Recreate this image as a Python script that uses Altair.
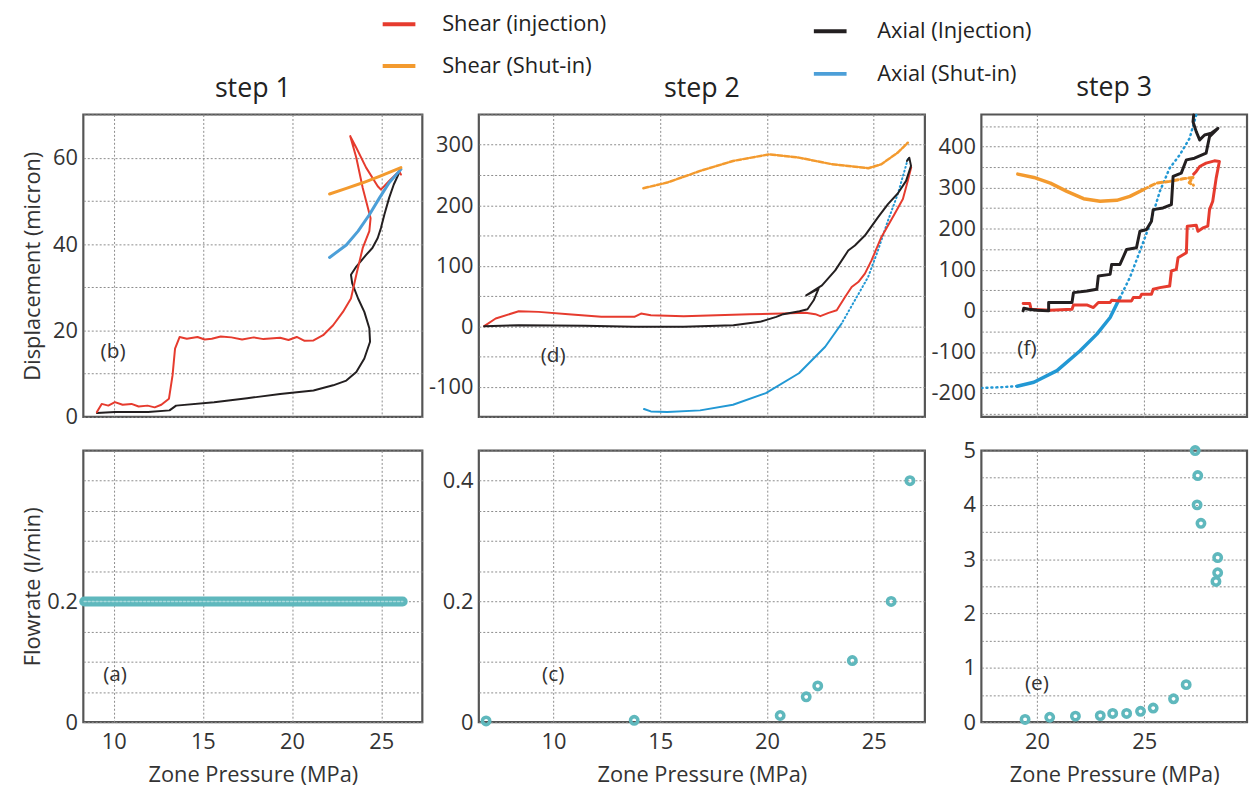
import altair as alt
import pandas as pd

FONT = "Open Sans"
RED = "#e63b2e"
ORANGE = "#f39a2e"
BLACK = "#231f20"
BLUE1 = "#4c9fd8"
BLUE = "#2298d4"
TEAL = "#5fb8bd"

# ---------------- Step 1 displacement ----------------
s1_shear_inj_x = [9.06, 9.33, 9.7, 10.07, 10.5, 11.0, 11.4, 11.9, 12.3, 12.67, 13.1, 13.3, 13.44, 13.7,
                  14.1, 14.7, 15.1, 15.5, 16.0, 16.6, 17.2, 17.85, 18.4, 19.33, 19.8, 20.26, 20.7, 21.2,
                  21.74, 22.3, 22.85, 23.3, 23.6, 23.96, 24.33, 24.4, 23.96, 23.6, 23.26, 23.6, 24.15,
                  24.8, 24.98, 25.44, 26.0, 26.1]
s1_shear_inj_y = [1.1, 3.0, 2.6, 3.4, 2.8, 3.0, 2.4, 2.6, 2.2, 2.8, 4.2, 9.6, 15.8, 18.5,
                  18.1, 18.5, 17.9, 18.1, 18.6, 18.4, 17.9, 18.4, 18.0, 18.3, 17.8, 18.5, 17.6, 17.7,
                  18.9, 21.2, 24.3, 27.4, 32.9, 39.1, 43.0, 46.0, 53.0, 60.0, 65.0, 62.3, 57.7,
                  53.4, 52.6, 54.6, 56.9, 56.1]
s1_axial_inj_x = [9.06, 10.07, 11.93, 13.13, 13.5, 15.63, 17.48, 19.33, 21.2, 22.3, 23.04, 23.6, 24.05,
                  24.37, 24.33, 24.05, 23.7, 23.37, 23.3, 23.6, 24.15, 24.5, 24.8, 24.98, 25.17, 25.44,
                  25.7, 26.0]
s1_axial_inj_y = [0.9, 1.1, 1.1, 1.5, 2.6, 3.4, 4.3, 5.3, 6.1, 7.3, 8.4, 10.4, 13.5,
                  17.4, 20.5, 24.3, 27.4, 30.9, 32.9, 34.8, 37.5, 39.1, 41.4, 43.7, 46.8, 50.7,
                  53.8, 56.5]
s1_shear_shut_x = [26.1, 24.9, 23.96, 23.04, 22.1]
s1_shear_shut_y = [57.7, 55.7, 54.2, 52.9, 51.6]
s1_axial_shut_x = [26.1, 25.44, 24.9, 24.33, 23.7, 23.04, 22.1]
s1_axial_shut_y = [57.3, 54.2, 50.7, 46.8, 43.0, 39.8, 36.9]

# ---------------- Step 2 displacement ----------------
s2_shear_inj_x = [6.75, 7.29, 8.37, 9.3, 10.7, 12.24, 13.79, 14.1, 14.56, 16.1, 17.64, 19.19, 20.73,
                  21.81, 22.27, 22.5, 22.89, 23.27, 23.66, 23.97, 24.28, 24.59, 24.9, 25.36, 25.98,
                  26.37, 26.6, 26.76]
s2_shear_inj_y = [0, 12.6, 24.7, 23.6, 19.8, 15.4, 15.4, 20.9, 18.1, 16.5, 18.1, 19.8, 20.9,
                  22.0, 19.8, 16.5, 22.0, 26.3, 48.3, 64.8, 73.0, 86.8, 108.8, 147.2, 185.6,
                  210.4, 240.6, 262.6]
s2_axial_inj_x = [6.75, 8.37, 11.47, 13.79, 16.1, 18.43, 19.67, 20.44, 20.76, 21.53, 21.9, 22.19,
                  22.42, 21.84, 22.58, 23.2, 23.81, 24.12, 24.59, 25.2, 25.67, 26.13, 26.52, 26.75,
                  26.67, 26.56]
s2_axial_inj_y = [0, 1.6, 0.5, -1.1, -1.1, 1.6, 7.1, 15.4, 19.8, 24.7, 28.0, 42.8,
                  62.0, 51.0, 67.5, 92.2, 125.1, 133.3, 149.8, 179.9, 201.9, 219.4, 240.3, 265.0,
                  278.7, 273.2]
s2_shear_shut_x = [14.21, 15.33, 16.87, 18.41, 20.11, 21.5, 23.05, 24.75, 25.36, 26.13, 26.6]
s2_shear_shut_y = [228.2, 237.5, 256.7, 273.2, 284.2, 278.7, 267.8, 261.2, 267.8, 287.0, 303.4]
s2_axial_shut_dot_x = [26.6, 26.13, 25.67, 25.2, 24.74, 24.12, 23.5]
s2_axial_shut_dot_y = [276, 218.4, 174.5, 125.1, 81.2, 42.8, 4.4]
s2_axial_shut_x = [23.5, 22.73, 21.5, 19.95, 18.41, 16.87, 15.33, 14.56, 14.24]
s2_axial_shut_y = [4.4, -34.0, -77.9, -110.8, -130.0, -139.3, -142.1, -141.0, -137.1]

# ---------------- Step 3 displacement ----------------
s3_shear_inj_x = [19.35, 19.66, 19.72, 20.59, 21.63, 21.7, 22.32, 22.63, 22.86, 23.41, 23.48, 23.87,
                  24.41, 24.49, 24.8, 24.88, 25.34, 25.42, 25.73, 26.19, 26.27, 26.5, 26.58, 26.97,
                  27.01, 27.43, 27.51, 27.74, 27.97, 28.05, 28.2, 28.36, 28.51, 28.28, 27.89, 27.59,
                  27.43, 27.31]
s3_shear_inj_y = [17.8, 17.8, 4.0, 1.6, 4.0, 14.5, 14.5, 8.1, 20.2, 20.2, 25.9, 24.2,
                  24.2, 32.3, 32.3, 40.4, 40.4, 52.5, 56.6, 60.6, 97.0, 101.0, 129.3, 141.4,
                  206.1, 208.5, 193.9, 202.0, 206.1, 246.5, 266.7, 323.2, 363.6, 365.3, 359.6, 351.5,
                  339.4, 333.0]
s3_axial_inj_x = [19.35, 19.38, 19.61, 20.0, 20.54, 20.54, 21.63, 21.7, 22.32, 22.79, 22.86, 23.41,
                  23.48, 23.87, 24.18, 24.64, 24.8, 25.11, 25.34, 25.42, 25.88, 26.27, 26.35, 26.73,
                  26.97, 27.35, 27.89, 28.05, 28.44, 28.13, 27.82, 27.59, 27.43, 27.28, 27.31]
s3_axial_inj_y = [0, 6.5, 4.0, 1.6, 0, 20.2, 20.2, 44.4, 48.5, 52.5, 84.8, 88.9,
                  113.1, 113.1, 149.5, 153.5, 193.9, 198.0, 218.2, 246.5, 250.5, 258.6, 327.3, 335.4,
                  367.7, 371.7, 383.8, 424.2, 444.4, 432.3, 428.3, 416.2, 436.4, 460.6, 476.8]
s3_shear_shut_x = [19.1, 19.85, 20.62, 21.39, 22.17, 22.94, 23.72, 24.33, 24.95]
s3_shear_shut_y = [332.9, 324.8, 311.1, 290.9, 273.1, 266.7, 269.1, 278.8, 294.9]
s3_shear_shut_dash_x = [24.95, 25.57, 26.19, 26.81, 27.28, 27.1, 27.3]
s3_shear_shut_dash_y = [294.9, 311.1, 315.2, 321.6, 325.0, 312.0, 306.0]
s3_axial_shut_dot_x = [27.43, 27.12, 26.66, 26.19, 25.73, 25.26, 24.8, 24.33, 23.87]
s3_axial_shut_dot_y = [476.8, 420.2, 379.8, 347.5, 290.9, 210.1, 145.5, 80.8, 32.3]
s3_axial_shut_x = [23.87, 23.41, 22.79, 22.01, 20.93, 19.85, 19.07]
s3_axial_shut_y = [32.3, -16.2, -56.6, -97.0, -145.5, -173.7, -183.4]
s3_axial_shut_dot2_x = [19.07, 18.3, 17.45]
s3_axial_shut_dot2_y = [-183.4, -185.9, -187.5]

# ---------------- Flowrates ----------------
f1_x = [8.35, 26.2]
f1_y = [0.2, 0.2]
f2_x = [6.84, 13.78, 20.62, 21.84, 22.38, 24.0, 25.82, 26.7]
f2_y = [0.002, 0.003, 0.011, 0.042, 0.060, 0.102, 0.2, 0.4]
f3_x = [19.44, 20.59, 21.79, 22.95, 23.53, 24.18, 24.83, 25.42, 26.37, 26.96, 27.38, 27.5, 27.47,
        27.65, 28.43, 28.43, 28.35]
f3_y = [0.05, 0.09, 0.11, 0.12, 0.16, 0.16, 0.20, 0.26, 0.43, 0.69, 5.0, 4.54, 4.0,
        3.66, 3.03, 2.75, 2.59]

# ---------------- Axes ----------------
X1_DOM, X2_DOM, X3_DOM = [8.3, 27.3], [6.5, 27.4], [17.4, 29.8]
X1_TICKS, X2_TICKS, X3_TICKS = [10, 15, 20, 25], [10, 15, 20, 25], [20, 25]
Y1T_DOM, Y2T_DOM, Y3T_DOM = [0, 70], [-150, 350], [-258, 478]
Y1T_GRID = [0, 10, 20, 30, 40, 50, 60, 70]
Y1T_LAB = [0, 20, 40, 60]
Y2T_GRID = [-150, -100, -50, 0, 50, 100, 150, 200, 250, 300, 350]
Y2T_LAB = [-100, 0, 100, 200, 300]
Y3T_GRID = [-250, -200, -150, -100, -50, 0, 50, 100, 150, 200, 250, 300, 350, 400, 450]
Y3T_LAB = [-200, -100, 0, 100, 200, 300, 400]
Y1B_DOM, Y2B_DOM, Y3B_DOM = [0, 0.45], [0, 0.45], [0, 5]
YB_GRID = [0, 0.05, 0.1, 0.15, 0.2, 0.25, 0.3, 0.35, 0.4, 0.45]
Y1B_LAB = [0, 0.2]
Y2B_LAB = [0, 0.2, 0.4]
Y3B_GRID = [0, 0.5, 1, 1.5, 2, 2.5, 3, 3.5, 4, 4.5, 5]
Y3B_LAB = [0, 1, 2, 3, 4, 5]

LEGEND_LABELS = ["Shear (injection)", "Shear (Shut-in)", "Axial (Injection)", "Axial (Shut-in)"]
LEGEND_COLORS = [RED, ORANGE, BLACK, BLUE1]
STEP_TITLES = ["step 1", "step 2", "step 3"]
PANEL_TAGS = ["(b)", "(d)", "(f)", "(a)", "(c)", "(e)"]

W = [342, 450, 268]
HT, HB = 305, 274
ONE = pd.DataFrame({"k": [0]})


def xaxis(ticks, bottom):
    if bottom:
        return alt.Axis(values=ticks, title="Zone Pressure (MPa)", grid=True, labelPadding=10,
                        titlePadding=12)
    return alt.Axis(values=ticks, labels=False, title=None, grid=True)


def yaxis(grid, labs, title, h):
    expr = "indexof([" + ",".join(str(v) for v in labs) + "], datum.value) >= 0 ? '' + datum.value : ''"
    kw = dict(values=grid, labelExpr=expr, grid=True, labelPadding=6)
    if title:
        kw.update(title=title, titleAngle=270, titleX=-44, titleY=h / 2, titleBaseline="alphabetic",
                  titleAlign="center")
    else:
        kw.update(title=None)
    return alt.Axis(**kw)


def enc(xdom, ydom, xa, ya):
    return dict(
        x=alt.X("x:Q", scale=alt.Scale(domain=xdom, nice=False, zero=False), axis=xa),
        y=alt.Y("y:Q", scale=alt.Scale(domain=ydom, nice=False, zero=False), axis=ya),
    )


def line(xs, ys, color, width, E, dash=None):
    df = pd.DataFrame({"x": xs, "y": ys, "i": list(range(len(xs)))})
    kw = dict(color=color, strokeWidth=width, strokeJoin="round", strokeCap="round")
    if dash:
        kw["strokeDash"] = dash
    return alt.Chart(df).mark_line(**kw).encode(order="i:Q", **E)


def pts(xs, ys, E):
    df = pd.DataFrame({"x": xs, "y": ys})
    return alt.Chart(df).mark_point(shape="circle", filled=False, color=TEAL, strokeWidth=3.6,
                                    size=55, opacity=1).encode(**E)


def tag(text, px, py):
    return alt.Chart(ONE).mark_text(font=FONT, fontSize=21, color="#333").encode(
        x=alt.value(px), y=alt.value(py), text=alt.value(text))


def legend_item(label, color, x1, y, tx):
    r = alt.Chart(ONE).mark_rule(color=color, strokeWidth=4).encode(
        x=alt.value(x1), x2=alt.value(x1 + 33), y=alt.value(y))
    t = alt.Chart(ONE).mark_text(font=FONT, fontSize=22, color="#222", align="left",
                                 baseline="middle").encode(
        x=alt.value(tx), y=alt.value(y), text=alt.value(label))
    return r + t


def ttl(s):
    return alt.TitleParams(s, font=FONT, fontSize=27, fontWeight="normal", color="#222", offset=12)


# ---- Panel (b) ----
E = enc(X1_DOM, Y1T_DOM, xaxis(X1_TICKS, False), yaxis(Y1T_GRID, Y1T_LAB, "Displacement (micron)", HT))
pb = alt.layer(
    line(s1_axial_inj_x, s1_axial_inj_y, BLACK, 2, E),
    line(s1_shear_inj_x, s1_shear_inj_y, RED, 2, E),
    line(s1_axial_shut_x, s1_axial_shut_y, BLUE1, 3, E),
    line(s1_shear_shut_x, s1_shear_shut_y, ORANGE, 3, E),
    tag(PANEL_TAGS[0], 30, 240),
).properties(width=W[0], height=HT, title=ttl(STEP_TITLES[0]))

# ---- Panel (d) ----
E = enc(X2_DOM, Y2T_DOM, xaxis(X2_TICKS, False), yaxis(Y2T_GRID, Y2T_LAB, None, HT))
pd_ = alt.layer(
    line(s2_axial_shut_x, s2_axial_shut_y, BLUE, 2, E),
    line(s2_axial_shut_dot_x, s2_axial_shut_dot_y, BLUE, 2, E, [1, 3]),
    line(s2_shear_shut_x, s2_shear_shut_y, ORANGE, 2.5, E, [5, 2]),
    line(s2_shear_inj_x, s2_shear_inj_y, RED, 2, E),
    line(s2_axial_inj_x, s2_axial_inj_y, BLACK, 2, E),
    tag(PANEL_TAGS[1], 75, 244),
).properties(width=W[1], height=HT, title=ttl(STEP_TITLES[1]))

# ---- Panel (f) ----
E = enc(X3_DOM, Y3T_DOM, xaxis(X3_TICKS, False), yaxis(Y3T_GRID, Y3T_LAB, None, HT))
pf = alt.layer(
    line(s3_axial_shut_dot_x, s3_axial_shut_dot_y, BLUE, 2.5, E, [1, 4]),
    line(s3_axial_shut_x, s3_axial_shut_y, BLUE, 3.5, E),
    line(s3_axial_shut_dot2_x, s3_axial_shut_dot2_y, BLUE, 2.5, E, [1, 4]),
    line(s3_shear_shut_x, s3_shear_shut_y, ORANGE, 3.5, E),
    line(s3_shear_shut_dash_x, s3_shear_shut_dash_y, ORANGE, 3, E, [5, 3]),
    line(s3_shear_inj_x, s3_shear_inj_y, RED, 3, E),
    line(s3_axial_inj_x, s3_axial_inj_y, BLACK, 3, E),
    tag(PANEL_TAGS[2], 46, 237),
).properties(width=W[2], height=HT, title=ttl(STEP_TITLES[2]))

# ---- Panel (a) ----
E = enc(X1_DOM, Y1B_DOM, xaxis(X1_TICKS, True), yaxis(YB_GRID, Y1B_LAB, "Flowrate (l/min)", HB))
pa = alt.layer(
    line(f1_x, f1_y, TEAL, 10, E),
    line(f1_x, f1_y, "#a9dadc", 1.5, E, [2, 2]),
    tag(PANEL_TAGS[3], 32, 226),
).properties(width=W[0], height=HB)

# ---- Panel (c) (also carries the figure legend, drawn above the top row) ----
E = enc(X2_DOM, Y2B_DOM, xaxis(X2_TICKS, True), yaxis(YB_GRID, Y2B_LAB, None, HB))
pc = alt.layer(
    pts(f2_x, f2_y, E),
    tag(PANEL_TAGS[4], 75, 226),
    legend_item(LEGEND_LABELS[0], LEGEND_COLORS[0], -97, -430, -37),
    legend_item(LEGEND_LABELS[1], LEGEND_COLORS[1], -97, -388, -37),
    legend_item(LEGEND_LABELS[2], LEGEND_COLORS[2], 338, -423, 402),
    legend_item(LEGEND_LABELS[3], LEGEND_COLORS[3], 338, -380, 402),
).properties(width=W[1], height=HB)

# ---- Panel (e) ----
E = enc(X3_DOM, Y3B_DOM, xaxis(X3_TICKS, True), yaxis(Y3B_GRID, Y3B_LAB, None, HB))
pe = alt.layer(pts(f3_x, f3_y, E), tag(PANEL_TAGS[5], 56, 236)).properties(width=W[2], height=HB)

chart = alt.concat(
    pb, pd_, pf, pa, pc, pe,
    columns=3, spacing={"row": 34, "column": 57}, bounds="flush", align="each",
).properties(
    padding={"left": 12, "top": 0, "right": 0, "bottom": 0},
).configure_view(
    stroke="#555555", strokeWidth=2.2,
).configure_axis(
    labelFont=FONT, titleFont=FONT, labelFontSize=22, titleFontSize=22, labelColor="#333",
    titleColor="#333", titleFontWeight="normal", gridColor="#8c8c8c", gridDash=[2, 2],
    gridWidth=1, ticks=False, domain=False,
)

chart.save("out.html", embed_options={"renderer": "svg", "actions": False})
